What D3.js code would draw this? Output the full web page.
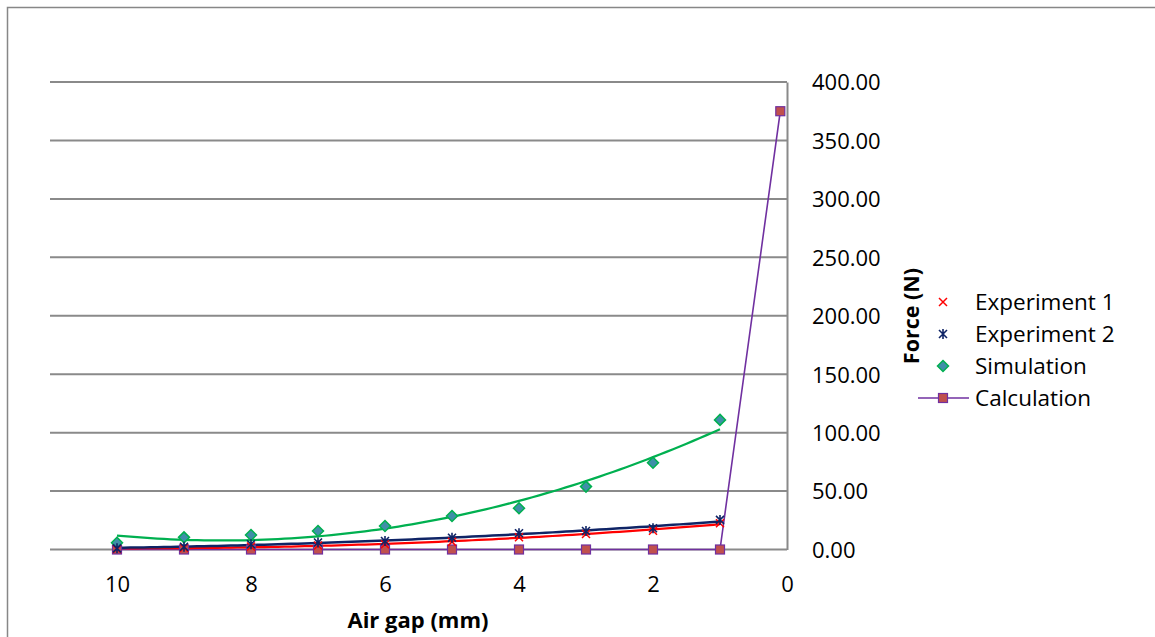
<!DOCTYPE html>
<html>
<head>
<meta charset="utf-8">
<script src="https://cdn.jsdelivr.net/npm/d3@7/dist/d3.min.js"></script>
<style>
  html, body { margin: 0; padding: 0; background: #ffffff; }
  svg { display: block; }
  text { font-family: "Open Sans", "Lato", sans-serif; fill: #000; }
</style>
</head>
<body>
<svg id="chart" width="1155" height="637"></svg>
<script>
// Air gap (mm) at which each force was measured / simulated
const gaps = [10, 9, 8, 7, 6, 5, 4, 3, 2, 1];
const experiment1 = [0.5, 1.5, 2.5, 3.5, 4.5, 6.5, 10.5, 13.3, 16.1, 22.4];
const experiment2 = [1.0, 2.4, 4.5, 6.0, 7.3, 10.1, 13.9, 15.8, 18.2, 25.3];
const simulation = [5.8, 10.4, 12.4, 15.8, 20.1, 28.7, 35.3, 53.8, 74.3, 110.9];

// Analytical calculation
const calcGaps = [10, 9, 8, 7, 6, 5, 4, 3, 2, 1, 0.1];
const calculation = [0, 0, 0, 0, 0, 0, 0, 0, 0, 0, 375];

const xTicks = [10, 8, 6, 4, 2, 0];
const yTicks = [0, 50, 100, 150, 200, 250, 300, 350, 400];
const legendLabels = ["Experiment 1", "Experiment 2", "Simulation", "Calculation"];

const svg = d3.select("#chart");
const W = 1155, H = 637;

// outer chart frame (runs past the visible page on right/bottom)
svg.append("rect")
  .attr("x", 7.5).attr("y", 7.5)
  .attr("width", W + 20).attr("height", H + 20)
  .attr("fill", "#fff").attr("stroke", "#878787").attr("stroke-width", 1.5);

const x = d3.scaleLinear().domain([11, 0]).range([50, 787]);
const y = d3.scaleLinear().domain([0, 400]).range([549.5, 82]);

// horizontal gridlines
svg.append("g").selectAll("line").data(yTicks).join("line")
  .attr("x1", x(11)).attr("x2", x(0))
  .attr("y1", d => y(d)).attr("y2", d => y(d))
  .attr("stroke", "#8a8a8a").attr("stroke-width", 2);

// right-hand value axis
const yAxis = d3.axisRight(y).tickValues(yTicks).tickFormat(d3.format(".2f")).tickSize(0).tickPadding(25);
const gy = svg.append("g").attr("transform", `translate(${x(0)},0)`).call(yAxis);
gy.select(".domain").attr("stroke", "#8a8a8a").attr("stroke-width", 2);
gy.selectAll("text").attr("font-size", 22).attr("font-family", "'Open Sans', sans-serif").attr("dy", "0.36em");

// bottom category axis (labels only)
const xAxis = d3.axisBottom(x).tickValues(xTicks).tickFormat(d3.format("d")).tickSize(0).tickPadding(27);
const gx = svg.append("g").attr("transform", `translate(0,${y(0)})`).call(xAxis);
gx.select(".domain").remove();
gx.selectAll("text").attr("font-size", 22).attr("font-family", "'Open Sans', sans-serif");

// axis titles
svg.append("text")
  .attr("x", 418).attr("y", 628)
  .attr("text-anchor", "middle")
  .attr("font-size", 22).attr("font-weight", "bold")
  .text("Air gap (mm)");
svg.append("text")
  .attr("transform", "translate(919,316) rotate(-90)")
  .attr("text-anchor", "middle")
  .attr("font-size", 21.5).attr("font-weight", "bold")
  .text("Force (N)");

// least-squares quadratic trendline
function quadFit(xs, ys) {
  const n = xs.length;
  let s = [0, 0, 0, 0, 0], t = [0, 0, 0];
  for (let i = 0; i < n; i++) {
    const xv = xs[i], yv = ys[i];
    for (let k = 0; k < 5; k++) s[k] += Math.pow(xv, k);
    for (let k = 0; k < 3; k++) t[k] += yv * Math.pow(xv, k);
  }
  const A = [[s[0], s[1], s[2], t[0]], [s[1], s[2], s[3], t[1]], [s[2], s[3], s[4], t[2]]];
  for (let i = 0; i < 3; i++) {
    let p = i;
    for (let r = i + 1; r < 3; r++) if (Math.abs(A[r][i]) > Math.abs(A[p][i])) p = r;
    [A[i], A[p]] = [A[p], A[i]];
    for (let r = 0; r < 3; r++) {
      if (r === i) continue;
      const f = A[r][i] / A[i][i];
      for (let c = i; c < 4; c++) A[r][c] -= f * A[i][c];
    }
  }
  const c = [A[0][3] / A[0][0], A[1][3] / A[1][1], A[2][3] / A[2][2]];
  return v => c[0] + c[1] * v + c[2] * v * v;
}

const line = d3.line().x(d => x(d[0])).y(d => y(d[1]));
const samples = d3.range(0, 91).map(i => 10 - i * 0.1);

function trend(ys, color, width) {
  const f = quadFit(gaps, ys);
  svg.append("path")
    .attr("d", line(samples.map(v => [v, f(v)])))
    .attr("fill", "none").attr("stroke", color).attr("stroke-width", width);
}

// calculation line
svg.append("path")
  .attr("d", line(calcGaps.map((g, i) => [g, calculation[i]])))
  .attr("fill", "none").attr("stroke", "#7030a0").attr("stroke-width", 1.6);

trend(simulation, "#00b050", 2.25);
trend(experiment1, "#ff0000", 2.25);
trend(experiment2, "#0f2466", 2.5);

// marker drawing helpers
function drawSquare(g, cx, cy) {
  g.append("rect").attr("x", cx - 4.5).attr("y", cy - 4.5).attr("width", 9).attr("height", 9)
    .attr("fill", "#c0504d").attr("stroke", "#7030a0").attr("stroke-width", 1.2);
}
function drawCross(g, cx, cy) {
  const r = 4;
  g.append("path").attr("d", `M${cx - r},${cy - r}L${cx + r},${cy + r}M${cx - r},${cy + r}L${cx + r},${cy - r}`)
    .attr("stroke", "#ff0000").attr("stroke-width", 1.5).attr("fill", "none");
}
function drawStar(g, cx, cy) {
  const r = 4;
  g.append("path").attr("d", `M${cx - r},${cy - r}L${cx + r},${cy + r}M${cx - r},${cy + r}L${cx + r},${cy - r}M${cx},${cy - r - 1}L${cx},${cy + r + 1}`)
    .attr("stroke", "#0f2466").attr("stroke-width", 1.6).attr("fill", "none");
}
function drawDiamond(g, cx, cy) {
  const r = 5.5;
  g.append("path").attr("d", `M${cx},${cy - r}L${cx + r},${cy}L${cx},${cy + r}L${cx - r},${cy}Z`)
    .attr("fill", "#3f8fa8").attr("stroke", "#00b050").attr("stroke-width", 1.5);
}

const marks = svg.append("g");
calcGaps.forEach((g, i) => drawSquare(marks, x(g), y(calculation[i])));
gaps.forEach((g, i) => drawDiamond(marks, x(g), y(simulation[i])));
gaps.forEach((g, i) => drawCross(marks, x(g), y(experiment1[i])));
gaps.forEach((g, i) => drawStar(marks, x(g), y(experiment2[i])));

// legend
const legend = svg.append("g");
const legendY = [302, 334, 366, 398];
const markerX = 943;
drawCross(legend, markerX, legendY[0]);
drawStar(legend, markerX, legendY[1]);
drawDiamond(legend, markerX, legendY[2]);
legend.append("line").attr("x1", 918).attr("x2", 969).attr("y1", legendY[3]).attr("y2", legendY[3])
  .attr("stroke", "#7030a0").attr("stroke-width", 1.6);
drawSquare(legend, markerX, legendY[3]);
legend.selectAll("text").data(legendLabels).join("text")
  .attr("x", 975).attr("y", (d, i) => legendY[i])
  .attr("dy", "0.36em").attr("font-size", 22.5)
  .text(d => d);
</script>
</body>
</html>
